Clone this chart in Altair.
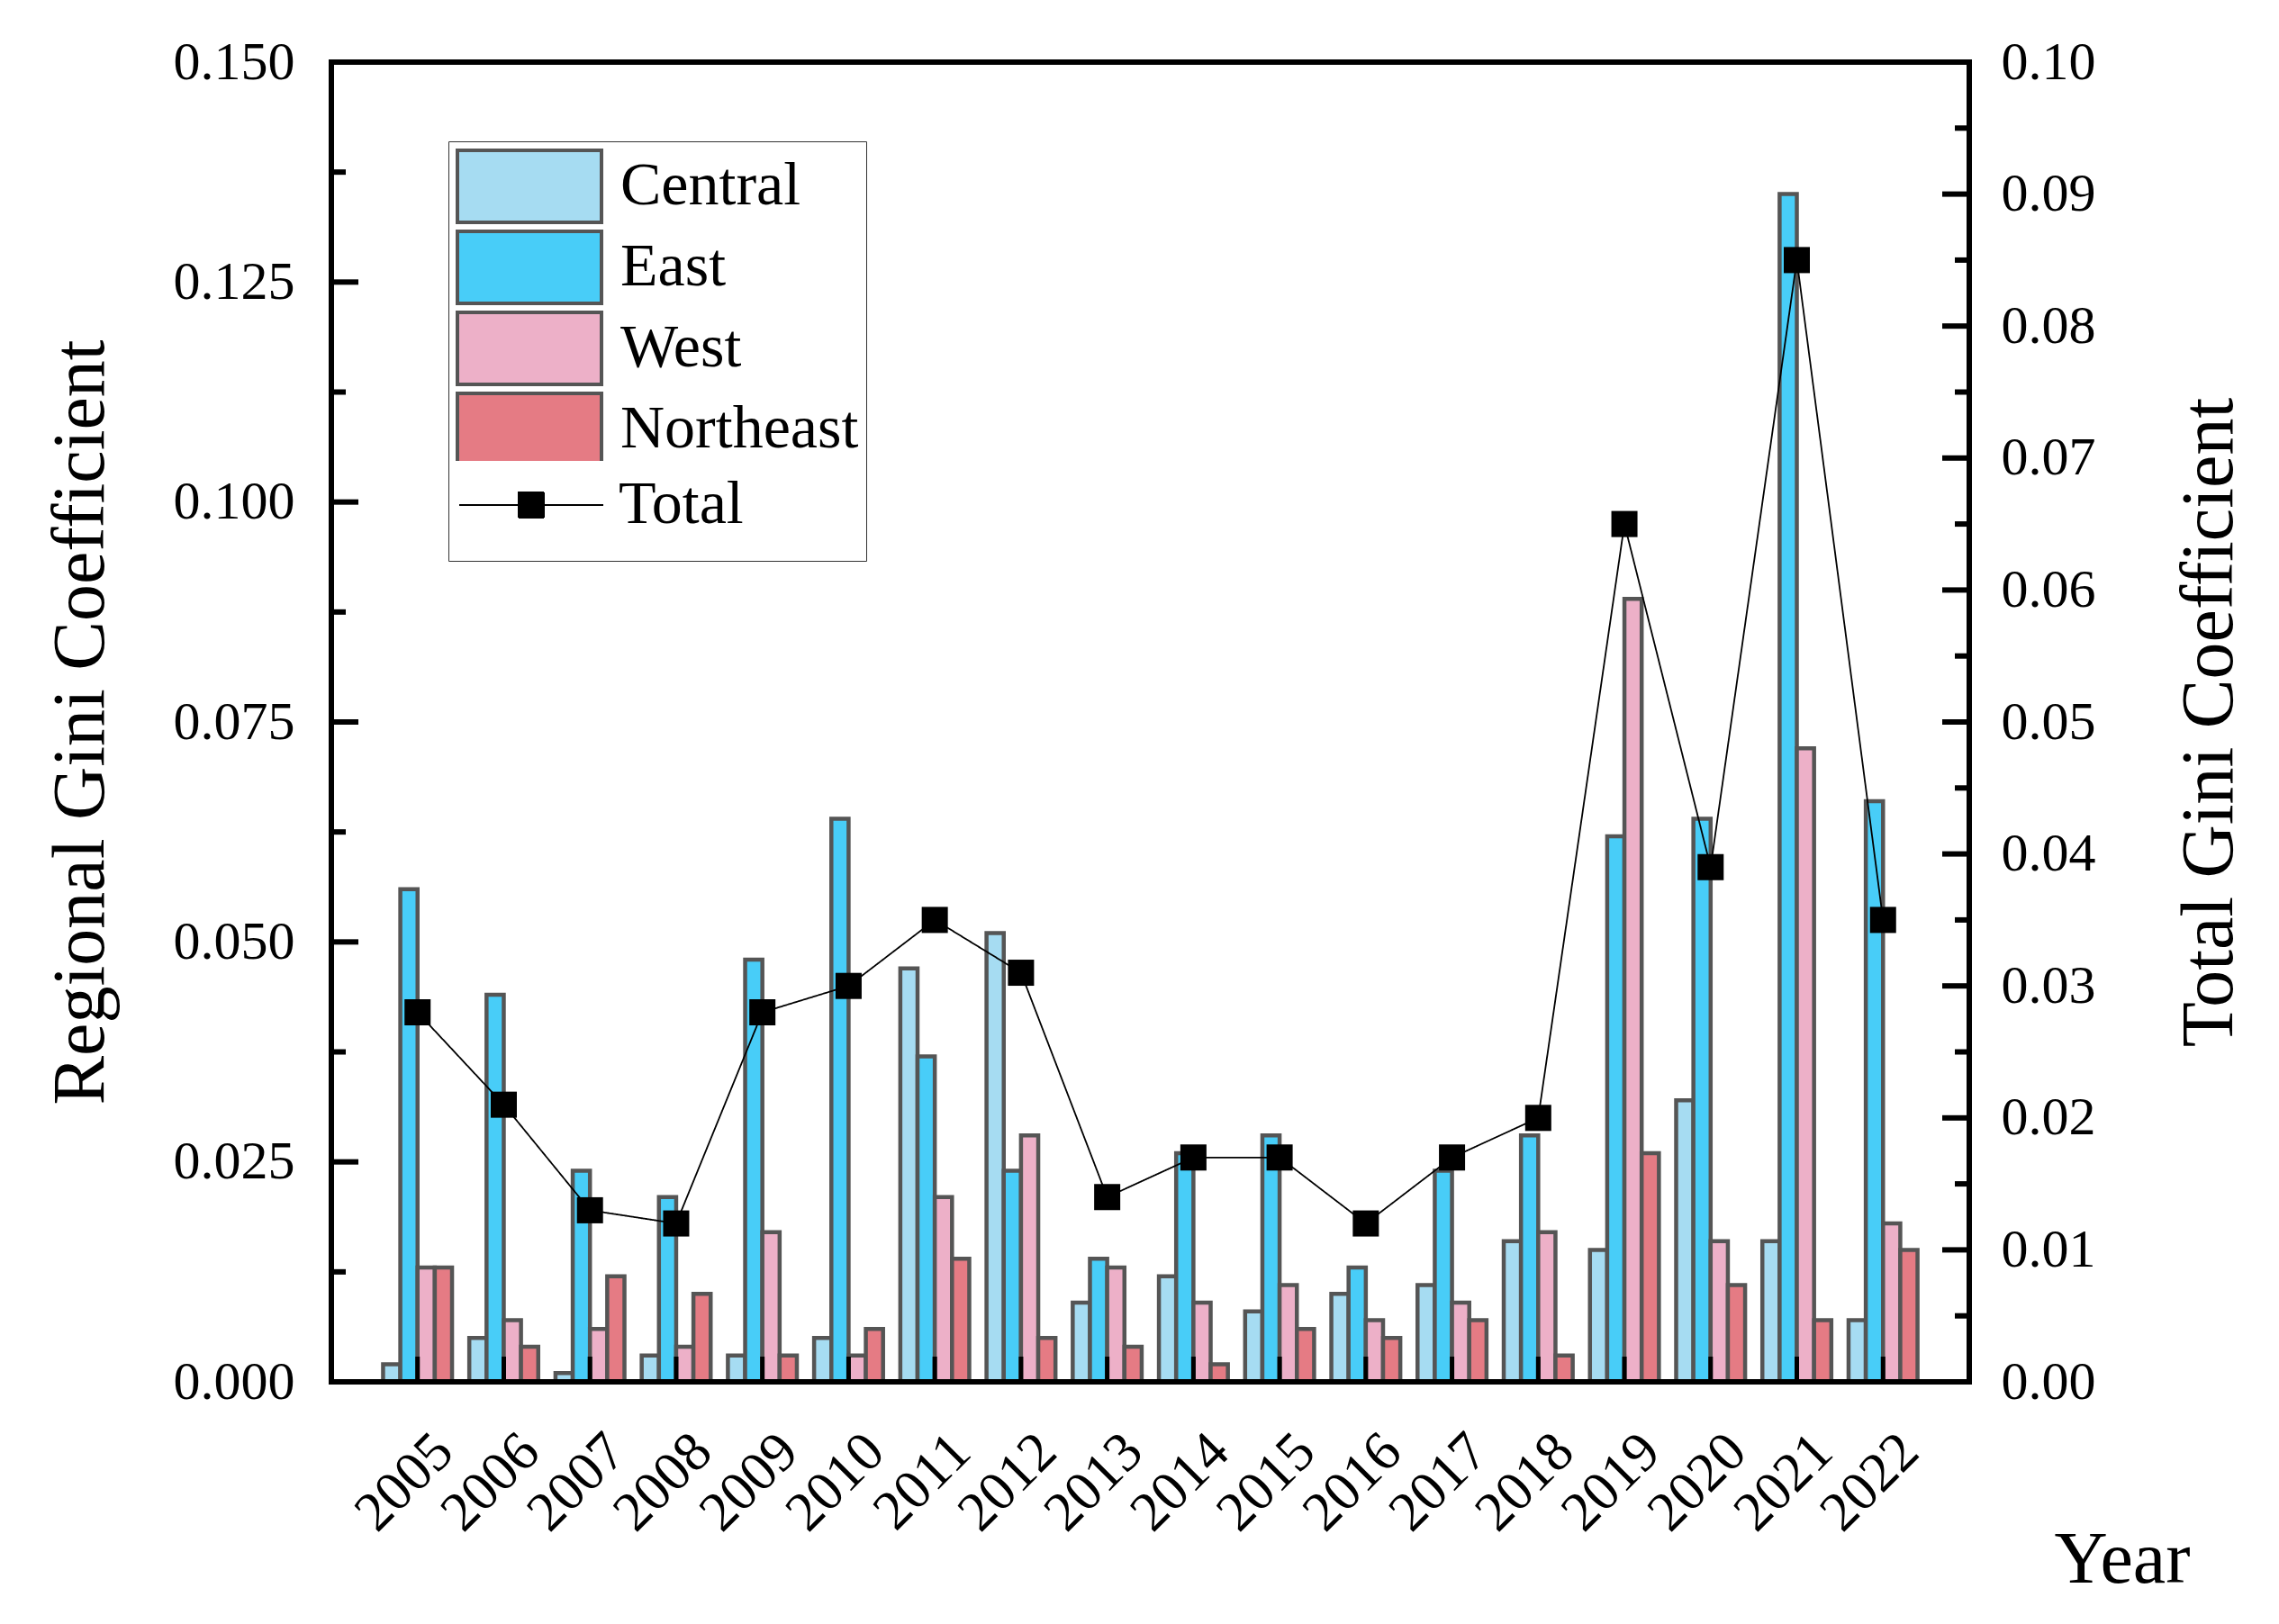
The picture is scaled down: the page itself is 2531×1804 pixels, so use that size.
import altair as alt
import pandas as pd

FONT = "Liberation Serif"
W, H = 1819, 1466

years = [str(y) for y in range(2005, 2023)]
central = [0.002, 0.005, 0.001, 0.003, 0.003, 0.005, 0.047, 0.051, 0.009,
           0.012, 0.008, 0.010, 0.011, 0.016, 0.015, 0.032, 0.016, 0.007]
east = [0.056, 0.044, 0.024, 0.021, 0.048, 0.064, 0.037, 0.024, 0.014,
        0.026, 0.028, 0.013, 0.024, 0.028, 0.062, 0.064, 0.135, 0.066]
west = [0.013, 0.007, 0.006, 0.004, 0.017, 0.003, 0.021, 0.028, 0.013,
        0.009, 0.011, 0.007, 0.009, 0.017, 0.089, 0.016, 0.072, 0.018]
northeast = [0.013, 0.004, 0.012, 0.010, 0.003, 0.006, 0.014, 0.005, 0.004,
             0.002, 0.006, 0.005, 0.007, 0.003, 0.026, 0.011, 0.007, 0.015]
total = [0.028, 0.021, 0.013, 0.012, 0.028, 0.030, 0.035, 0.031, 0.014,
         0.017, 0.017, 0.012, 0.017, 0.020, 0.065, 0.039, 0.085, 0.035]

regions = ["Central", "East", "West", "Northeast"]
colors = ["#a6dcf2", "#48cdf8", "#edb0c8", "#e57b84"]

left_major = [0, 0.025, 0.05, 0.075, 0.1, 0.125, 0.15]
left_minor = [0.0125, 0.0375, 0.0625, 0.0875, 0.1125, 0.1375]
right_major = [0, 0.01, 0.02, 0.03, 0.04, 0.05, 0.06, 0.07, 0.08, 0.09, 0.1]
right_minor = [0.005, 0.015, 0.025, 0.035, 0.045, 0.055, 0.065, 0.075, 0.085, 0.095]

rows = []
for name, vals in zip(regions, [central, east, west, northeast]):
    for y, v in zip(years, vals):
        rows.append({"year": y, "region": name, "value": v})
bars_df = pd.DataFrame(rows)
total_df = pd.DataFrame({"year": years, "value": total, "region": "Total"})

# legend swatches: 160x80 rectangles, total: line with a square in the middle
# (the extra moves only make the total entry as tall as a swatch)
RECT = "M-1,-1H3V1H-1Z"
LINE_SQ = "M1,-1.1M1,1.1M-1,0H3M0.65,-0.35H1.35V0.35H0.65Z"

color_scale = alt.Scale(domain=regions + ["Total"], range=colors + ["white"])
x_enc = alt.X("year:O", sort=years,
              scale=alt.Scale(paddingInner=0.2, paddingOuter=0.6),
              axis=alt.Axis(title="Year", labelAngle=315, labelAlign="right",
                            labelBaseline="top", labelOffset=8, labelPadding=46,
                            ticks=False, domain=False, grid=False,
                            labelFont=FONT, labelFontSize=62, labelColor="black",
                            titleFont=FONT, titleFontSize=82, titleFontWeight="normal",
                            titleColor="black", titleAlign="right", titleAnchor="end",
                            titleX=2064, titleY=222, titleBaseline="alphabetic"))

left_scale = alt.Scale(domain=[0, 0.15], nice=False)
right_scale = alt.Scale(domain=[0, 0.1], nice=False)

left_axis = alt.Axis(title="Regional Gini Coefficient", orient="left",
                     values=left_major, format=".3f", ticks=False, domain=False,
                     grid=False, labelPadding=41, labelFont=FONT, labelFontSize=60,
                     labelColor="black", titleFont=FONT, titleFontSize=82,
                     titleFontWeight="normal", titleColor="black", titleAngle=270,
                     titleAlign="center", titleBaseline="alphabetic",
                     titleX=-254, titleY=H / 2)
right_axis = alt.Axis(title="Total Gini Coefficient", orient="right",
                      values=right_major, format=".2f", ticks=False, domain=False,
                      grid=False, labelPadding=35, labelFont=FONT, labelFontSize=60,
                      labelColor="black", titleFont=FONT, titleFontSize=82,
                      titleFontWeight="normal", titleColor="black", titleAngle=270,
                      titleAlign="center", titleBaseline="alphabetic",
                      titleX=291, titleY=H / 2)

bars = alt.Chart(bars_df).mark_bar(stroke="#555555", strokeWidth=4.5).encode(
    x=x_enc,
    xOffset=alt.XOffset("region:N", sort=regions,
                        scale=alt.Scale(domain=regions, paddingInner=0, paddingOuter=0)),
    y=alt.Y("value:Q", scale=left_scale, axis=left_axis),
    color=alt.Color("region:N", scale=color_scale,
                    legend=alt.Legend(title=None, orient="none", legendX=130, legendY=88,
                                      symbolSize=6400, symbolType=RECT,
                                      symbolStrokeWidth=4, symbolOpacity=1,
                                      labelFont=FONT, labelFontSize=68, labelColor="black",
                                      labelExpr="datum.value === 'Total' ? '' : datum.label",
                                      labelOffset=99, labelLimit=500, rowPadding=-8,
                                      padding=8, strokeColor="#333333",
                                      fillColor="white", zindex=1)),
)

left_ticks_major = alt.Chart(pd.DataFrame({"v": left_major})).mark_rule(
    color="black", strokeWidth=6).encode(
    y=alt.Y("v:Q", scale=left_scale, axis=left_axis), x=alt.value(0), x2=alt.value(30))
left_ticks_minor = alt.Chart(pd.DataFrame({"v": left_minor})).mark_rule(
    color="black", strokeWidth=6).encode(
    y=alt.Y("v:Q", scale=left_scale, axis=left_axis), x=alt.value(0), x2=alt.value(16))
x_ticks = alt.Chart(pd.DataFrame({"year": years})).mark_rule(
    color="black", strokeWidth=5).encode(
    x=alt.X("year:O", sort=years), y=alt.value(H), y2=alt.value(H - 28))
bottom_line = alt.Chart(pd.DataFrame({"year": years[:1]})).mark_rule(
    color="black", strokeWidth=6).encode(
    x=alt.value(0), x2=alt.value(W), y=alt.value(H))

line = alt.Chart(total_df).mark_line(color="black", strokeWidth=1.8).encode(
    x=alt.X("year:O", sort=years),
    y=alt.Y("value:Q", scale=right_scale, axis=right_axis),
    strokeDash=alt.StrokeDash("region:N", scale=alt.Scale(domain=["Total"], range=[[1, 0]]),
                              legend=alt.Legend(title=None, orient="none", legendX=133,
                                                legendY=443, symbolSize=6400,
                                                symbolType=LINE_SQ, symbolStrokeWidth=2,
                                                symbolStrokeColor="black",
                                                symbolFillColor="black", symbolOpacity=1,
                                                labelFont=FONT, labelFontSize=68,
                                                labelColor="black", labelOffset=96,
                                                padding=8, fillColor="white", zindex=2)),
)
points = alt.Chart(total_df).mark_square(size=841, color="black", filled=True, opacity=1).encode(
    x=alt.X("year:O", sort=years),
    y=alt.Y("value:Q", scale=right_scale, axis=right_axis),
)
right_ticks_major = alt.Chart(pd.DataFrame({"v": right_major})).mark_rule(
    color="black", strokeWidth=6).encode(
    y=alt.Y("v:Q", scale=right_scale, axis=right_axis), x=alt.value(W - 30), x2=alt.value(W))
right_ticks_minor = alt.Chart(pd.DataFrame({"v": right_minor})).mark_rule(
    color="black", strokeWidth=6).encode(
    y=alt.Y("v:Q", scale=right_scale, axis=right_axis), x=alt.value(W - 16), x2=alt.value(W))

left_layer = alt.layer(bars, left_ticks_major, left_ticks_minor, x_ticks, bottom_line)
right_layer = alt.layer(line, points, right_ticks_major, right_ticks_minor)

chart = alt.layer(left_layer, right_layer).resolve_scale(y="independent").properties(
    width=W, height=H,
    autosize=alt.AutoSizeParams(type="none"),
    padding={"left": 360, "top": 61, "right": 330, "bottom": 250},
    background="white",
).configure_view(stroke="black", strokeWidth=6)

chart.save("out.html", embed_options={"renderer": "svg", "actions": False})
